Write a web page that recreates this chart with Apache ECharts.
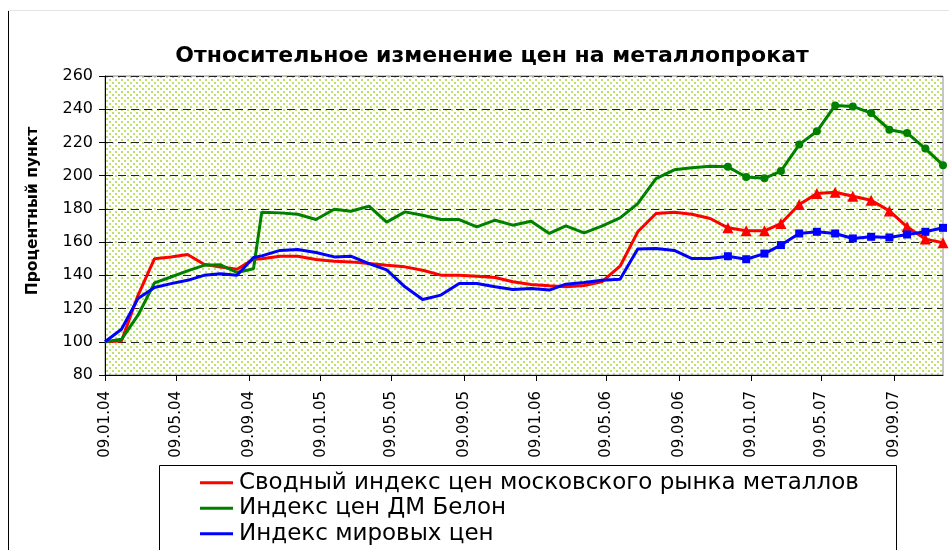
<!DOCTYPE html>
<html>
<head>
<meta charset="utf-8">
<script src="https://cdn.jsdelivr.net/npm/echarts@6/dist/echarts.min.js"></script>
<style>
  html, body { margin: 0; padding: 0; background: #fff; }
  #chart { width: 949px; height: 550px; }
</style>
</head>
<body>
<div id="chart"></div>
<script>
// dates of the observations
var dates = [
  '2004-01-09', '2004-02-06', '2004-03-05', '2004-04-02', '2004-04-30', '2004-05-28',
  '2004-06-25', '2004-07-23', '2004-08-20', '2004-09-17', '2004-10-01', '2004-11-01',
  '2004-12-01', '2005-01-01', '2005-02-01', '2005-03-01', '2005-04-01', '2005-05-01',
  '2005-06-01', '2005-07-01', '2005-08-01', '2005-09-01', '2005-10-01', '2005-11-01',
  '2005-12-01', '2006-01-01', '2006-02-01', '2006-03-01', '2006-04-01', '2006-05-01',
  '2006-06-01', '2006-07-01', '2006-08-01', '2006-09-01', '2006-10-01', '2006-11-01',
  '2006-12-01', '2007-01-01', '2007-02-01', '2007-03-01', '2007-04-01', '2007-05-01',
  '2007-06-01', '2007-07-01', '2007-08-01', '2007-09-01', '2007-10-01', '2007-11-01',
  '2007-12-01'
];
var moscow = [
  100, 100.5, 128, 150, 151, 152.5, 146.7, 145, 143.7, 149.7, 150, 151.5,
  151.5, 149.5, 148.5, 148.1, 147.1, 146.1, 145.1, 143.1, 140.1, 140.1, 139.5, 138.7,
  136.1, 134.5, 133.7, 133.1, 133.9, 136.1, 145.5, 166.2, 177.2, 178, 176.8, 174.2,
  168.6, 166.8, 166.8, 171.2, 182.6, 189.2, 190, 187.6, 185.2, 178.8, 169.2, 161.8,
  159.6
];
var belon = [
  100, 101.5, 116, 135.5, 139, 142.7, 146, 146.3, 141.7, 144, 178, 177.6,
  176.8, 173.6, 179.8, 178.6, 181.6, 172, 178.2, 176.2, 173.6, 173.6, 169.2, 173.2,
  170.2, 172.6, 165.2, 169.8, 165.6, 169.6, 174.6, 183.2, 198.2, 203.5, 204.8, 205.7,
  205.3, 199.2, 198.4, 202.8, 218.7, 226.7, 242.3, 241.7, 237.7, 227.7, 225.7, 216.3,
  206.3
];
var world = [
  100, 107.5, 126, 132.7, 135, 137, 140, 141, 140, 150.7, 151.7, 155,
  155.5, 153.7, 151.1, 151.5, 147.1, 143.3, 133.1, 125.5, 128.1, 135.1, 135.1, 133.1,
  131.5, 132.1, 131.1, 134.7, 135.7, 137.1, 137.7, 155.8, 156.2, 155, 150.1, 150.1,
  151.5, 149.7, 153.1, 158.2, 165.2, 166.2, 165.2, 162.2, 163.2, 162.8, 164.6, 166.2,
  168.6
];
var markedFrom = 36; // points from 01.12.06 on carry markers
var tickDates = [
  '2004-01-09', '2004-05-09', '2004-09-09', '2005-01-09', '2005-05-09', '2005-09-09',
  '2006-01-09', '2006-05-09', '2006-09-09', '2007-01-09', '2007-05-09', '2007-09-09'
];
var seriesNames = [
  'Сводный индекс цен московского рынка металлов',
  'Индекс цен ДМ Белон',
  'Индекс мировых цен'
];

function toTime(s) {
  var p = s.split('-');
  return new Date(+p[0], +p[1] - 1, +p[2]).getTime();
}
function pad(n) { return n < 10 ? '0' + n : '' + n; }
function fmt(t) {
  var d = new Date(t);
  return pad(d.getDate()) + '.' + pad(d.getMonth() + 1) + '.' + pad(d.getFullYear() % 100);
}
function build(values) {
  return values.map(function (v, i) {
    var item = { value: [toTime(dates[i]), v] };
    if (i < markedFrom) item.symbol = 'none';
    return item;
  });
}

// dotted plot area fill
var tile = document.createElement('canvas');
tile.width = 6; tile.height = 6;
var ctx = tile.getContext('2d');
ctx.fillStyle = '#ffffff';
ctx.fillRect(0, 0, 6, 6);
ctx.fillStyle = '#bde26c';
ctx.fillRect(1, 1, 2, 2);
ctx.fillRect(4, 4, 2, 2);

var font = '"DejaVu Sans", Arial, sans-serif';
var chart = echarts.init(document.getElementById('chart'));
chart.setOption({
  animation: false,
  textStyle: { fontFamily: font },
  title: {
    text: 'Относительное изменение цен на металлопрокат',
    left: 487,
    textAlign: 'center',
    top: 40,
    textStyle: { fontSize: 22, fontWeight: 'bold', color: '#000', fontFamily: font }
  },
  graphic: [
    { type: 'line', shape: { x1: 8.5, y1: 10, x2: 8.5, y2: 550 }, style: { stroke: '#000', lineWidth: 1 } },
    { type: 'line', shape: { x1: 8, y1: 10.5, x2: 949, y2: 10.5 }, style: { stroke: '#e4e4e4', lineWidth: 1 } },
    { type: 'rect', shape: { x: 159.5, y: 465.5, width: 737, height: 120 }, style: { fill: '#fff', stroke: '#000', lineWidth: 1 }, z: -1 },
    {
      type: 'text', x: 33, y: 211, rotation: Math.PI / 2,
      style: { text: 'Процентный пункт', font: 'bold 15.5px ' + font, fill: '#000', align: 'center', verticalAlign: 'middle' }
    }
  ],
  legend: {
    orient: 'vertical',
    left: 200,
    top: 470,
    icon: 'rect',
    itemWidth: 33,
    itemHeight: 3,
    itemGap: 0,
    padding: 0,
    data: seriesNames,
    textStyle: { fontSize: 23, lineHeight: 25.5, color: '#000', fontFamily: font, padding: [0, 0, 0, 1] }
  },
  grid: {
    left: 105, top: 76, width: 838, height: 299,
    show: true,
    backgroundColor: { image: tile, repeat: 'repeat' },
    borderColor: '#8c8c8c',
    borderWidth: 1
  },
  xAxis: {
    type: 'value',
    min: toTime(dates[0]),
    max: toTime(dates[dates.length - 1]),
    axisLine: { lineStyle: { color: '#000', width: 1 } },
    axisTick: { show: true, length: 6, inside: false, lineStyle: { color: '#000' }, customValues: tickDates.map(toTime) },
    axisLabel: {
      customValues: tickDates.map(toTime),
      rotate: 90,
      margin: 16,
      fontSize: 15,
      color: '#000',
      fontFamily: font,
      formatter: function (v) { return fmt(v); }
    },
    splitLine: { show: false }
  },
  yAxis: {
    type: 'value',
    min: 80, max: 260, interval: 20,
    axisLine: { show: true, lineStyle: { color: '#000', width: 1 } },
    axisTick: { show: true, length: 6, lineStyle: { color: '#000' } },
    axisLabel: { fontSize: 16, color: '#000', margin: 12, fontFamily: font },
    splitLine: { show: true, lineStyle: { color: '#222', width: 1, type: [8, 5] } }
  },
  series: [
    {
      name: seriesNames[0], type: 'line', data: build(moscow),
      symbol: 'triangle', symbolSize: 11, showSymbol: true,
      lineStyle: { color: '#ff0000', width: 3 }, itemStyle: { color: '#ff0000' }
    },
    {
      name: seriesNames[1], type: 'line', data: build(belon),
      symbol: 'circle', symbolSize: 8, showSymbol: true,
      lineStyle: { color: '#008000', width: 3 }, itemStyle: { color: '#008000' }
    },
    {
      name: seriesNames[2], type: 'line', data: build(world),
      symbol: 'rect', symbolSize: 8, showSymbol: true,
      lineStyle: { color: '#0000ff', width: 3 }, itemStyle: { color: '#0000ff' }
    }
  ]
});
</script>
</body>
</html>
